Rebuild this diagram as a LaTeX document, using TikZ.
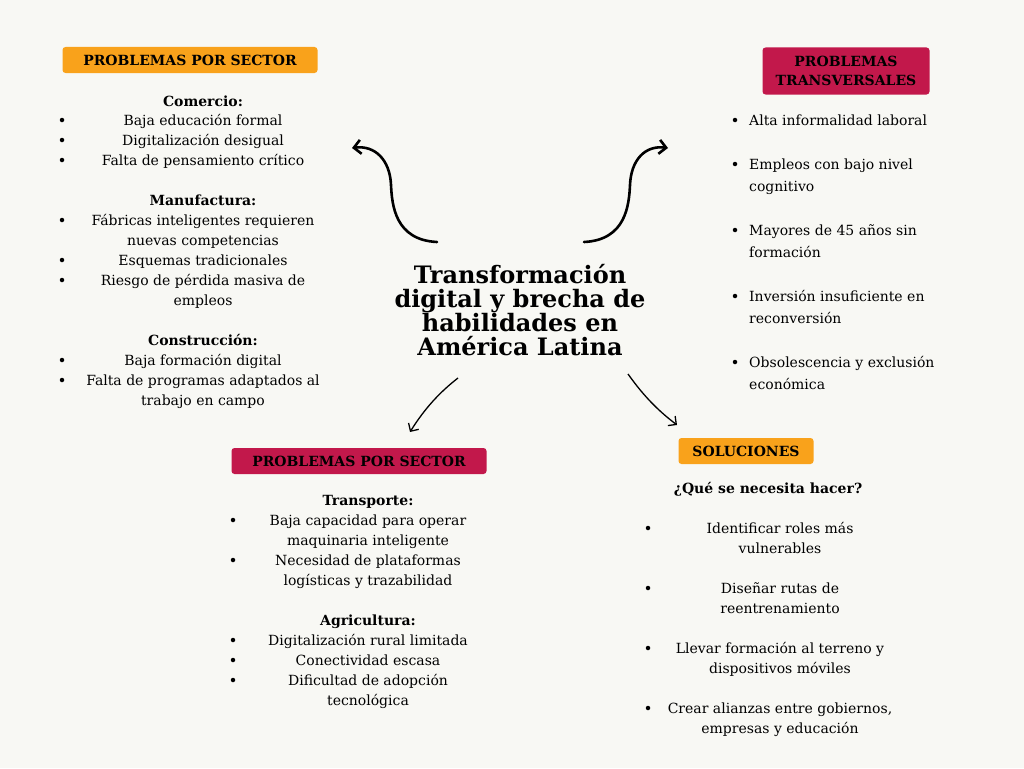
\documentclass[tikz,border=0pt]{standalone}
\usepackage{fontspec}
\setmainfont{DejaVu Serif}
\usetikzlibrary{arrows.meta}
\definecolor{paper}{HTML}{F8F8F4}
\definecolor{tagorange}{HTML}{F9A21B}
\definecolor{tagred}{HTML}{C2184B}

\begin{document}
\begin{tikzpicture}[x=1pt, y=-1pt,
        tag/.style={rounded corners=3pt, inner xsep=6pt, inner ysep=4pt, align=center, font=\fontsize{14}{19}\selectfont\bfseries},
        item/.style={font=\fontsize{14}{20}\selectfont, inner sep=0pt, anchor=base, yshift=-5pt},
        head/.style={item, font=\fontsize{14}{20}\selectfont\bfseries},
        dot/.style={circle, fill=black, inner sep=0pt, minimum size=4.5pt},
        curvy/.style={-{Straight Barb[length=7pt, width=14pt]}, line width=2.6pt, line cap=round},
        thin/.style={-{Straight Barb[length=6pt, width=12pt]}, line width=1.3pt}
        ]
        \fill[paper] (0,0) rectangle (1024,768);
        \useasboundingbox (0,0) rectangle (1024,768);

        % title
        \node[align=center, font=\fontsize{24}{23.5}\selectfont\bfseries] (title) at (520,310) {Transformación\\digital y brecha de\\habilidades en\\América Latina};

        % tags
        \node[tag, fill=tagorange, minimum width=255pt, minimum height=26pt] (tagsector) at (190,60) {PROBLEMAS POR SECTOR};
        \node[tag, fill=tagred, minimum width=167pt, minimum height=47pt, inner ysep=1pt] (tagtrans) at (846,71) {PROBLEMAS\\TRANSVERSALES};
        \node[tag, fill=tagred, minimum width=255pt, minimum height=26pt] (tagsector2) at (359,461) {PROBLEMAS POR SECTOR};
        \node[tag, fill=tagorange, minimum width=135pt, minimum height=26pt] (tagsol) at (746,451) {SOLUCIONES};

        % left top panel
        \node[head] (comercio) at (203,101) {Comercio:};
        \node[head] (manuf) at (203,200) {Manufactura:};
        \node[head] (constr) at (203,340) {Construcción:};
        \foreach \y/\txt in {120/Baja educación formal, 140/Digitalización desigual,
                160/Falta de pensamiento crítico, 220/Fábricas inteligentes requieren,
                240/nuevas competencias, 260/Esquemas tradicionales,
                280/Riesgo de pérdida masiva de, 300/empleos, 360/Baja formación digital,
                380/Falta de programas adaptados al, 400/trabajo en campo}
            \node[item] (lt\y) at (203,\y) {\txt};
        \foreach \y in {120,140,160,220,260,280,360,380}
            \node[dot] (ltdot\y) at (62,\y) {};

        % left bottom panel
        \node[head] (transp) at (368,500) {Transporte:};
        \node[head] (agri) at (368,620) {Agricultura:};
        \foreach \y/\txt in {520/Baja capacidad para operar, 540/maquinaria inteligente,
                560/Necesidad de plataformas, 580/logísticas y trazabilidad,
                640/Digitalización rural limitada, 660/Conectividad escasa,
                680/Dificultad de adopción, 700/tecnológica}
            \node[item] (lb\y) at (368,\y) {\txt};
        \foreach \y in {520,560,640,660,680}
            \node[dot] (lbdot\y) at (233,\y) {};

        % right top panel
        \foreach \y/\txt in {120/Alta informalidad laboral, 164/Empleos con bajo nivel,
                186/cognitivo, 230/Mayores de 45 años sin, 252/formación,
                296/Inversión insuficiente en, 318/reconversión,
                362/Obsolescencia y exclusión, 384/económica}
            \node[item, anchor=base west] (rt\y) at (749,\y) {\txt};
        \foreach \y in {120,164,230,296,362}
            \node[dot] (rtdot\y) at (735,\y) {};

        % right bottom panel
        \node[head] (pregunta) at (768,488) {¿Qué se necesita hacer?};
        \foreach \y/\txt in {528/Identificar roles más, 548/vulnerables,
                588/Diseñar rutas de, 608/reentrenamiento,
                648/Llevar formación al terreno y, 668/dispositivos móviles,
                708/{Crear alianzas entre gobiernos,}, 728/empresas y educación}
            \node[item] (rb\y) at (780,\y) {\txt};
        \foreach \y in {528,588,648,708}
            \node[dot] (rbdot\y) at (648,\y) {};

        % arrows
        \coordinate (ulstart) at (437,242);
        \coordinate (ulend) at (352,148);
        \coordinate (urstart) at (584,242);
        \coordinate (urend) at (668,148);
        \coordinate (llstart) at (458,378);
        \coordinate (llend) at (410,432);
        \coordinate (lrstart) at (628,374);
        \coordinate (lrend) at (677,425);

        \draw[curvy] (ulstart) .. controls (395,240) and (392,205) .. (391,185)
            .. controls (390,160) and (375,145) .. (ulend);
        \draw[curvy] (urstart) .. controls (626,240) and (629,205) .. (630,185)
            .. controls (631,160) and (645,145) .. (urend);
        \draw[thin] (llstart) .. controls (440,392) and (425,408) .. (llend);
        \draw[thin] (lrstart) .. controls (645,398) and (660,412) .. (lrend);
\end{tikzpicture}
\end{document}
